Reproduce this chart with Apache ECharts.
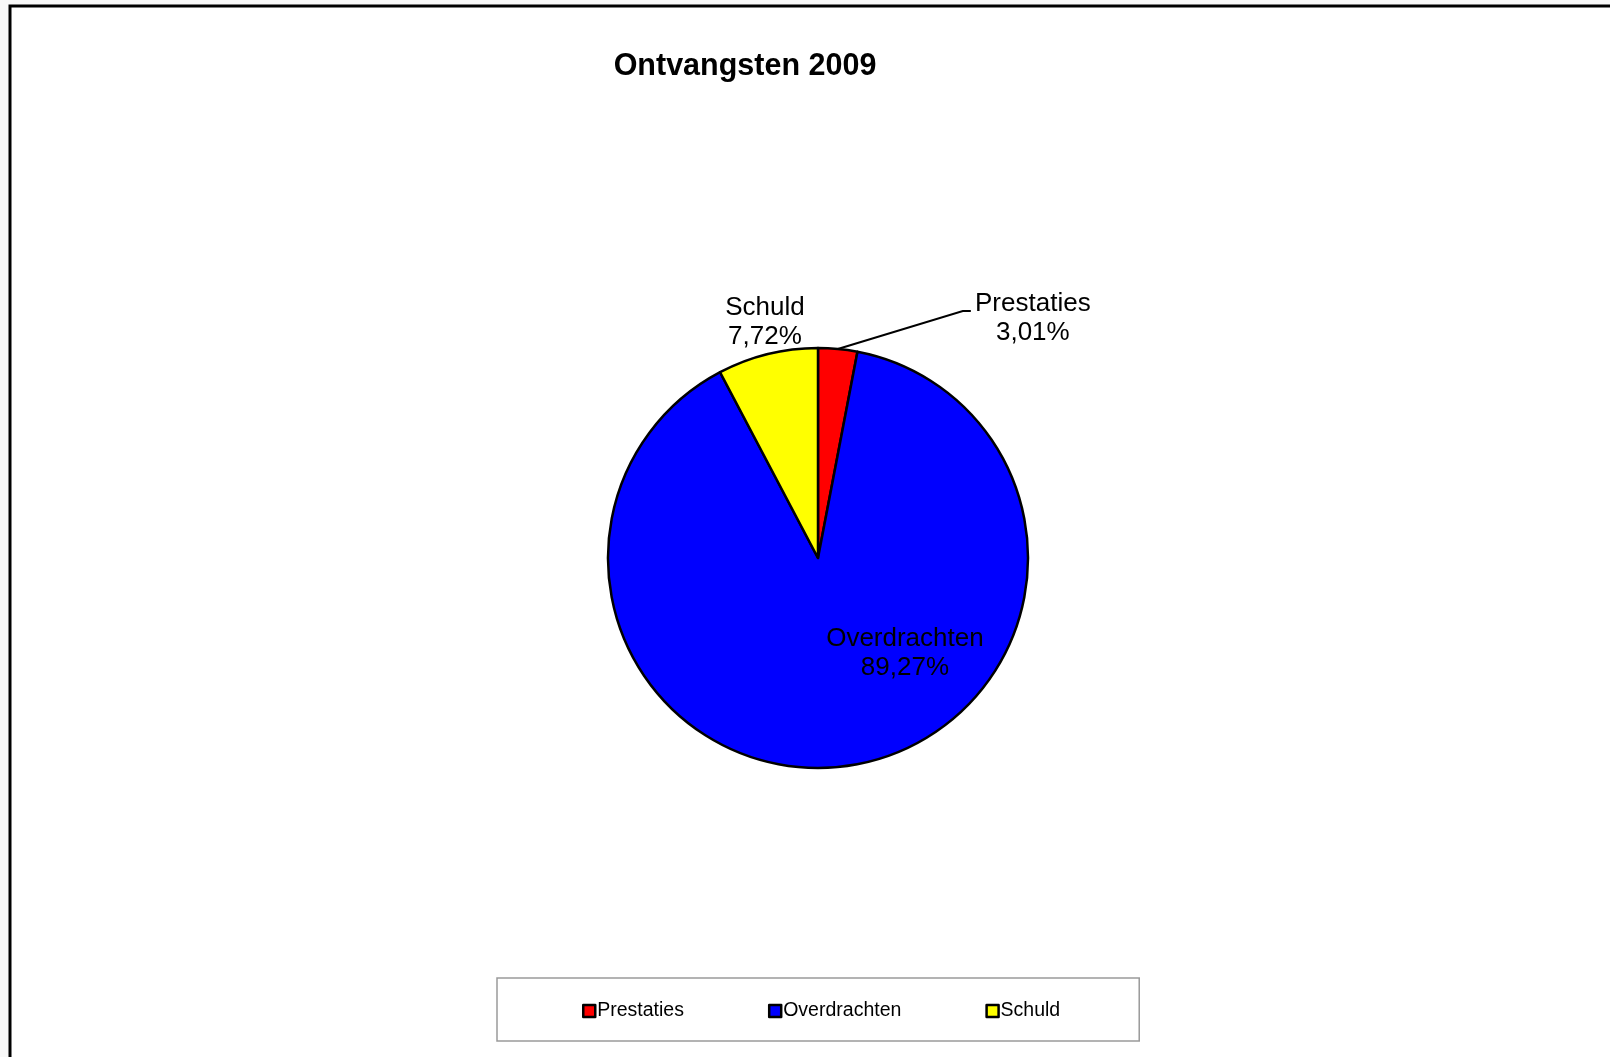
<!DOCTYPE html>
<html>
<head>
<meta charset="utf-8">
<script src="https://cdn.jsdelivr.net/npm/echarts@6/dist/echarts.min.js"></script>
<style>
html,body{margin:0;padding:0;background:#f8f8f8;}
#c{width:1610px;height:1057px;}
</style>
</head>
<body>
<div id="c"></div>
<script>
// ---- data ----
const titleText = 'Ontvangsten 2009';
const categories = ['Prestaties', 'Overdrachten', 'Schuld'];
const values = [3.01, 89.27, 7.72];
const colors = ['#FF0000', '#0000FF', '#FFFF00'];

// ---- layout ----
const FONT = "'Liberation Sans', Arial, sans-serif";
const CX = 818, CY = 558, R = 210;

function fmtPct(v) { return v.toFixed(2).replace('.', ',') + '%'; }

// fallback: edge point at mid angle of a slice
function edgePoint(i) {
  const total = values.reduce((a, b) => a + b, 0);
  let start = 0;
  for (let k = 0; k < i; k++) start += values[k];
  const mid = (start + values[i] / 2) / total * 2 * Math.PI;
  return [CX + R * Math.sin(mid), CY - R * Math.cos(mid)];
}

const chart = echarts.init(document.getElementById('c'), null, { renderer: 'canvas' });

const data = categories.map((name, i) => {
  const d = { name: name, value: values[i], itemStyle: { color: colors[i] } };
  if (i === 1) {
    d.label = { position: 'inside' };
    d.labelLine = { show: false };
  } else if (i === 0) {
    d.label = { position: 'outside' };
    d.labelLine = { show: true, length: 15, length2: 10, lineStyle: { color: '#000', width: 2 } };
  } else {
    d.label = { position: 'outside' };
    d.labelLine = { show: true, length: 15, length2: 5, lineStyle: { opacity: 0 } };
  }
  return d;
});

chart.setOption({
  animation: false,
  backgroundColor: '#f8f8f8',
  graphic: [{
    type: 'rect',
    z: -10,
    shape: { x: 10, y: 6, width: 1620, height: 1070 },
    style: { fill: '#ffffff', stroke: '#000000', lineWidth: 3 }
  }],
  title: {
    text: titleText,
    left: 740,
    top: 46,
    textAlign: 'center',
    textStyle: { fontFamily: FONT, fontSize: 30.5, fontWeight: 'bold', color: '#000' }
  },
  legend: {
    data: categories,
    left: 497,
    top: 978,
    orient: 'horizontal',
    padding: [23, 79, 20, 85],
    itemGap: 84,
    itemWidth: 12,
    itemHeight: 12,
    icon: 'rect',
    borderColor: '#9a9a9a',
    borderWidth: 1.5,
    backgroundColor: '#ffffff',
    textStyle: { fontFamily: FONT, fontSize: 19.5, color: '#000', padding: [0, 0, 0, -3] },
    itemStyle: { borderColor: '#000', borderWidth: 2.5 }
  },
  series: [{
    type: 'pie',
    center: [CX, CY],
    radius: R,
    startAngle: 90,
    clockwise: true,
    avoidLabelOverlap: false,
    emphasis: { disabled: true },
    itemStyle: { borderColor: '#000', borderWidth: 2.5 },
    label: {
      show: true,
      fontFamily: FONT,
      fontSize: 26,
      lineHeight: 29,
      color: '#000',
      align: 'center',
      formatter: function (p) { return p.name + '\n' + fmtPct(values[p.dataIndex]); }
    },
    labelLayout: function (params) {
      const i = params.dataIndex;
      const r = params.labelRect;
      if (i === 1) {
        return { x: r.x + r.width / 2 + 71, y: r.y + r.height / 2 - 11, align: 'center', verticalAlign: 'middle' };
      }
      const p0 = (params.labelLinePoints && params.labelLinePoints[0]) ? params.labelLinePoints[0] : edgePoint(i);
      if (i === 0) {
        return {
          x: p0[0] + 195, y: p0[1] - 30.5, align: 'center', verticalAlign: 'middle',
          labelLinePoints: [[p0[0], p0[1]], [p0[0] + 125, p0[1] - 38], [p0[0] + 133, p0[1] - 38]]
        };
      }
      return { x: p0[0] - 2.6, y: p0[1] - 31.5, align: 'center', verticalAlign: 'middle' };
    },
    data: data
  }]
});
</script>
</body>
</html>
